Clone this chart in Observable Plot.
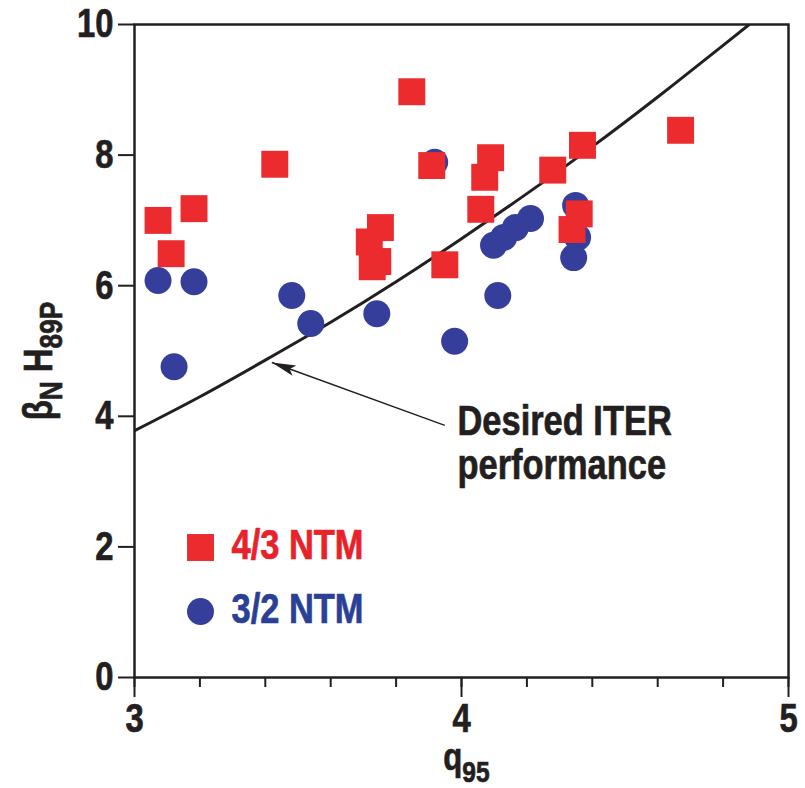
<!DOCTYPE html>
<html>
<head>
<meta charset="utf-8">
<script src="https://cdn.jsdelivr.net/npm/d3@7"></script>
<script src="https://cdn.jsdelivr.net/npm/@observablehq/plot@0.6"></script>
<style>
  html, body { margin: 0; padding: 0; background: #fff; }
</style>
</head>
<body>
<div id="chart"></div>
<script>
// 4/3 NTM (red squares)
const ntm43X = [3.072, 3.112, 3.182, 3.429, 3.848, 3.909, 4.089, 4.071, 4.059, 3.949, 4.279, 4.370, 4.670, 4.360, 4.338, 3.752, 3.718, 3.727, 3.744];
const ntm43Y = [7.00, 6.49, 7.18, 7.86, 8.97, 7.84, 7.96, 7.66, 7.17, 6.32, 7.77, 8.15, 8.38, 7.10, 6.86, 6.89, 6.67, 6.29, 6.37];
// 3/2 NTM (blue circles)
const ntm32X = [3.072, 3.182, 3.121, 3.481, 3.539, 3.741, 3.918, 3.979, 4.111, 4.098, 4.129, 4.165, 4.211, 4.349, 4.355, 4.343];
const ntm32Y = [6.08, 6.06, 4.76, 5.85, 5.42, 5.57, 7.89, 5.15, 5.85, 6.62, 6.74, 6.89, 7.03, 7.23, 6.74, 6.43];
// Desired ITER performance curve
const iterX = [3.0, 3.2, 3.4, 3.6, 3.8, 4.0, 4.2, 4.4, 4.6, 4.8, 4.88];
const iterY = [3.78, 4.30, 4.86, 5.44, 6.06, 6.72, 7.41, 8.13, 8.89, 9.68, 10.0];
// Annotation arrow (from label to curve)
const arrowFrom = {x: 3.949, y: 3.86};
const arrowTo = {x: 3.420, y: 4.824};
// Ticks
const xTicks = [3, 4, 5];
const xMinorTicks = [3, 3.2, 3.4, 3.6, 3.8, 4, 4.2, 4.4, 4.6, 4.8, 5];
const yTicks = [0, 2, 4, 6, 8, 10];
const seriesNames = ["4/3 NTM", "3/2 NTM"];
const annotationText = "Desired ITER\nperformance";

const red = "#ec2b2f";
const blue = "#353e9b";
const redText = "#e8222b";
const blueText = "#2a3f96";
const ink = "#231f20";

const squares = ntm43X.map((x, i) => ({x, y: ntm43Y[i]}));
const circles = ntm32X.map((x, i) => ({x, y: ntm32Y[i]}));
const curve = iterX.map((x, i) => ({x, y: iterY[i]}));

const headSymbol = {
  draw(context) {
    context.moveTo(0, 0);
    context.lineTo(-24, -5.5);
    context.lineTo(-19, 0);
    context.lineTo(-24, 5.5);
    context.closePath();
  }
};

const chart = Plot.plot({
  width: 805,
  height: 788,
  marginLeft: 134,
  marginRight: 17,
  marginTop: 24,
  marginBottom: 111,
  x: {domain: [3, 5], label: null},
  y: {domain: [0, 10], label: null},
  style: {
    fontFamily: "'Liberation Sans', Arial, sans-serif",
    fontWeight: "bold",
    background: "#fff",
    color: ink,
    overflow: "visible"
  },
  marks: [
    Plot.axisX(xMinorTicks, {tickSize: 10, tickFormat: () => "", stroke: ink, strokeWidth: 2, label: null}),
    Plot.axisX(xTicks, {tickSize: 20, tickPadding: 6, tickFormat: "d", fontSize: 40, fontWeight: "bold", fill: ink, stroke: ink, strokeWidth: 2, label: null}),
    Plot.axisY(yTicks, {tickSize: 16, tickPadding: 5, tickFormat: "d", fontSize: 40, fontWeight: "bold", fill: ink, stroke: ink, strokeWidth: 2, label: null}),
    Plot.frame({stroke: ink, strokeWidth: 2.5}),
    Plot.line(curve, {x: "x", y: "y", stroke: ink, strokeWidth: 3, curve: "natural", clip: true}),
    Plot.link([{}], {x1: () => arrowFrom.x, y1: () => arrowFrom.y, x2: () => arrowTo.x, y2: () => arrowTo.y, stroke: ink, strokeWidth: 1.4}),
    Plot.dot([arrowTo], {x: "x", y: "y", symbol: headSymbol, fill: ink, stroke: "none", rotate: -160}),
    Plot.dot(circles, {x: "x", y: "y", r: 13.5, fill: blue, stroke: "none"}),
    Plot.dot(squares, {x: "x", y: "y", symbol: "square", r: 15.2, fill: red, stroke: "none"}),
    // legend
    Plot.dot([seriesNames[0]], {frameAnchor: "bottom-left", dx: 66, dy: -130, symbol: "square", r: 15.2, fill: red, stroke: "none"}),
    Plot.dot([seriesNames[1]], {frameAnchor: "bottom-left", dx: 66, dy: -66, r: 13.5, fill: blue, stroke: "none"}),
    Plot.text([seriesNames[0]], {frameAnchor: "bottom-left", dx: 97, dy: -132, textAnchor: "start", lineAnchor: "middle", fill: redText, fontSize: 42, fontWeight: "bold"}),
    Plot.text([seriesNames[1]], {frameAnchor: "bottom-left", dx: 97, dy: -68, textAnchor: "start", lineAnchor: "middle", fill: blueText, fontSize: 42, fontWeight: "bold"}),
    // annotation
    Plot.text([annotationText], {frameAnchor: "top-left", dx: 323, dy: 379, textAnchor: "start", lineAnchor: "top", lineHeight: 1.05, fill: ink, fontSize: 42, fontWeight: "bold"}),
    // axis labels
    Plot.text(["q95"], {frameAnchor: "bottom", dx: 5, dy: 66, lineAnchor: "top", textAnchor: "middle", fill: ink, fontSize: 38, fontWeight: "bold"}),
    Plot.text(["βNH89P"], {frameAnchor: "left", dx: -95, dy: 10, rotate: -90, lineAnchor: "middle", textAnchor: "middle", fill: ink, fontSize: 40, fontWeight: "bold"})
  ]
});

// Subscripts for the axis labels
d3.select(chart).selectAll("text").each(function() {
  const t = d3.select(this);
  const s = this.textContent;
  if (s === "q95") {
    t.text(null);
    t.append("tspan").text("q");
    t.append("tspan").attr("font-size", 30).attr("dy", 12).text("95");
  } else if (s === "βNH89P") {
    t.text(null);
    t.append("tspan").text("β");
    t.append("tspan").attr("font-size", 32).attr("dy", 10).text("N");
    t.append("tspan").attr("dy", -10).text(" H");
    t.append("tspan").attr("font-size", 32).attr("dy", 10).text("89P");
  }
});

// Condensed heavy look: narrow every text horizontally around its anchor and thicken strokes
d3.select(chart).selectAll("text").each(function() {
  const tr = this.getAttribute("transform") || "";
  this.setAttribute("transform", (tr + " scale(0.82,1)").trim());
  const fill = this.getAttribute("fill") || (this.parentNode && this.parentNode.getAttribute("fill")) || ink;
  this.setAttribute("stroke", fill === "currentColor" ? ink : fill);
  this.setAttribute("stroke-width", 0.7);
  this.setAttribute("paint-order", "fill");
});

document.getElementById("chart").appendChild(chart);
</script>
</body>
</html>
